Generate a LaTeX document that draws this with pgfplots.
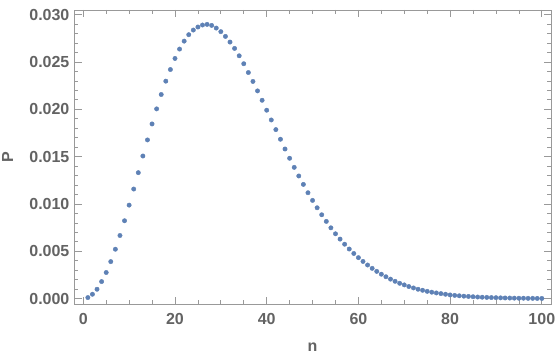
\documentclass[border=0pt]{standalone}
\usepackage{pgfplots}
\pgfplotsset{compat=1.18}
\usepackage{fontspec}
\setmainfont{Liberation Sans}
\definecolor{ptblue}{rgb}{0.368,0.507,0.710}
\definecolor{framegray}{rgb}{0.60,0.60,0.60}
\definecolor{labgray}{rgb}{0.39,0.39,0.39}
\begin{document}
\begin{tikzpicture}
\begin{axis}[
  scale only axis,
  width=476.9pt, height=294.3pt,
  xmin=-2, xmax=102,
  ymin=-0.0006, ymax=0.0305,
  xtick={0,20,...,100},
  ytick={0,0.005,0.010,0.015,0.020,0.025,0.030},
  minor x tick num=3,
  minor y tick num=4,
  tick align=inside,
  major tick length=7.5pt,
  minor tick length=4pt,
  xtick pos=both, ytick pos=both,
  xticklabel pos=left, yticklabel pos=left,
  axis line style={framegray, line width=0.8pt},
  every tick/.style={framegray, line width=0.8pt},
  scaled y ticks=false,
  /pgf/number format/assume math mode=true,
  yticklabel style={/pgf/number format/.cd, fixed, fixed zerofill, precision=3, /tikz/.cd, inner sep=0pt, xshift=-4.5pt},
  xticklabel style={inner sep=0pt, yshift=-8.8pt},
  ticklabel style={font=\bfseries\fontsize{16}{19}\selectfont, text=labgray},
  label style={font=\bfseries\fontsize{16}{19}\selectfont, text=labgray},
  xlabel={n}, ylabel={P},
  xlabel style={at={(axis description cs:0.5,0)}, anchor=center, yshift=-43pt},
  ylabel style={at={(axis description cs:0,0.5)}, anchor=center, yshift=66.6pt},
]
\addplot[only marks, mark=*, mark size=2.2pt, color=ptblue, mark options={draw=none, fill=ptblue}] coordinates {
(1,0.00011) (2,0.00046) (3,0.00099) (4,0.00180) (5,0.00276) (6,0.00391) (7,0.00522) (8,0.00667) (9,0.00823) (10,0.00988)
(11,0.01158) (12,0.01331) (13,0.01507) (14,0.01677) (15,0.01846) (16,0.02005) (17,0.02157) (18,0.02298) (19,0.02421) (20,0.02538)
(21,0.02637) (22,0.02721) (23,0.02789) (24,0.02838) (25,0.02870) (26,0.02891) (27,0.02898) (28,0.02887) (29,0.02859) (30,0.02821)
(31,0.02771) (32,0.02711) (33,0.02644) (34,0.02566) (35,0.02482) (36,0.02389) (37,0.02295) (38,0.02195) (39,0.02096) (40,0.01991)
(41,0.01888) (42,0.01786) (43,0.01684) (44,0.01581) (45,0.01483) (46,0.01387) (47,0.01296) (48,0.01207) (49,0.01119) (50,0.01038)
(51,0.00960) (52,0.00886) (53,0.00816) (54,0.00748) (55,0.00685) (56,0.00629) (57,0.00575) (58,0.00524) (59,0.00477) (60,0.00433)
(61,0.00393) (62,0.00355) (63,0.00320) (64,0.00288) (65,0.00258) (66,0.00231) (67,0.00206) (68,0.00183) (69,0.00162) (70,0.00145)
(71,0.00128) (72,0.00113) (73,0.00099) (74,0.00088) (75,0.00077) (76,0.00068) (77,0.00060) (78,0.00053) (79,0.00046) (80,0.00039)
(81,0.00034) (82,0.00030) (83,0.00026) (84,0.00023) (85,0.00020) (86,0.00017) (87,0.00015) (88,0.00013) (89,0.00011) (90,0.00010)
(91,0.00008) (92,0.00007) (93,0.00006) (94,0.00005) (95,0.00004) (96,0.00004) (97,0.00003) (98,0.00003) (99,0.00002) (100,0.00002)
};
\end{axis}
\pgfresetboundingbox
\path[use as bounding box] (-74.1pt,-50.7pt) rectangle (481.9pt,304.3pt);
\end{tikzpicture}
\end{document}
